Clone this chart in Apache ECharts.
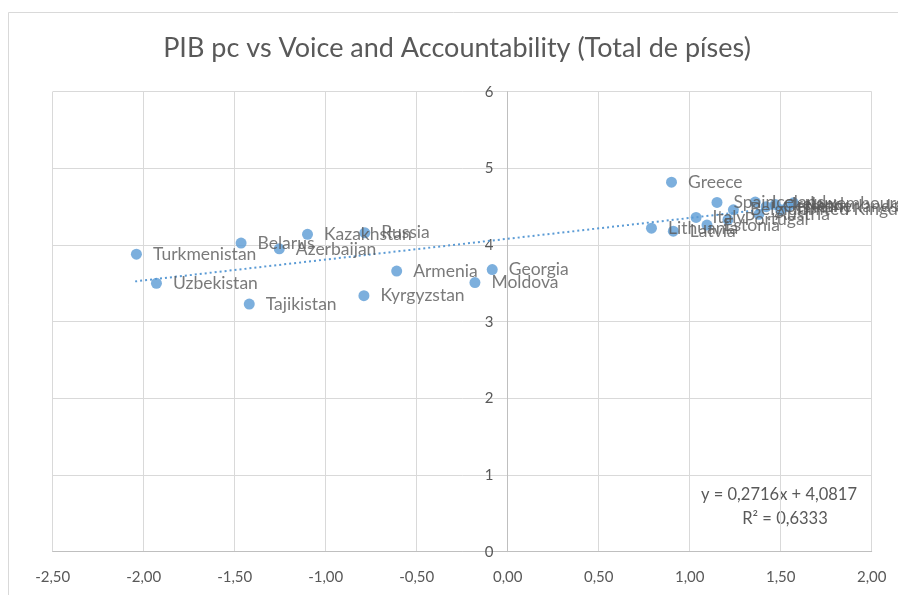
<!DOCTYPE html>
<html>
<head>
<meta charset="utf-8">
<script src="https://cdn.jsdelivr.net/npm/echarts@6/dist/echarts.min.js"></script>
<style>
  html, body { margin: 0; padding: 0; background: #fff; }
  #chart { width: 898px; height: 595px; }
</style>
</head>
<body>
<div id="chart"></div>
<script>
// países, Voice and Accountability (x) y PIB pc (y)
const countries = ['Turkmenistan', 'Uzbekistan', 'Belarus', 'Tajikistan', 'Azerbaijan', 'Kazakhstan',
  'Russia', 'Kyrgyzstan', 'Armenia', 'Moldova', 'Georgia', 'Greece', 'Lithuania', 'Latvia', 'Italy',
  'Estonia', 'Spain', 'Portugal', 'Belgium', 'Iceland', 'Austria', 'Germany', 'Ireland',
  'United Kingdom', 'Netherlands', 'Luxembourg']
const voice = [-2.04, -1.93, -1.465, -1.42, -1.255, -1.10,
  -0.785, -0.79, -0.61, -0.18, -0.085, 0.90, 0.79, 0.91, 1.035,
  1.095, 1.15, 1.21, 1.24, 1.36, 1.38, 1.42, 1.47,
  1.50, 1.54, 1.57]
const pib = [3.88, 3.50, 4.025, 3.23, 3.95, 4.14,
  4.16, 3.34, 3.66, 3.51, 3.68, 4.82, 4.22, 4.18, 4.36,
  4.26, 4.555, 4.33, 4.46, 4.56, 4.40, 4.50, 4.53,
  4.46, 4.50, 4.55]
// línea de tendencia (extremos)
const trendX = [-2.047, 1.57]
const trendY = [3.526, 4.508]

const font = 'Lato, "Open Sans", sans-serif'
const points = countries.map((c, i) => ({ name: c, value: [voice[i], pib[i]] }))

const chart = echarts.init(document.getElementById('chart'), null, { renderer: 'canvas' })
chart.setOption({
  animation: false,
  backgroundColor: '#fff',
  textStyle: { fontFamily: font },
  graphic: [
    {
      type: 'rect',
      shape: { x: 8.5, y: 12.5, width: 900, height: 600 },
      style: { fill: 'none', stroke: '#d9d9d9', lineWidth: 1 },
      silent: true,
    },
    {
      type: 'text',
      x: 457,
      y: 48,
      style: {
        text: 'PIB pc vs Voice and Accountability (Total de píses)',
        font: '27px ' + font,
        fill: '#595959',
        align: 'center',
        verticalAlign: 'middle',
      },
    },
    {
      type: 'text',
      x: 779,
      y: 495,
      style: {
        text: 'y = 0,2716x + 4,0817',
        font: '16.5px ' + font,
        fill: '#595959',
        align: 'center',
        verticalAlign: 'middle',
      },
    },
    {
      type: 'text',
      x: 785,
      y: 519,
      style: {
        text: 'R² = 0,6333',
        font: '16.5px ' + font,
        fill: '#595959',
        align: 'center',
        verticalAlign: 'middle',
      },
    },
  ],
  grid: {
    left: 52.7,
    right: 26.3,
    top: 91.7,
    bottom: 43.3,
  },
  xAxis: {
    type: 'value',
    min: -2.5,
    max: 2,
    interval: 0.5,
    axisLine: { show: true, onZero: false, lineStyle: { color: '#bfbfbf', width: 1 } },
    axisTick: { show: false },
    axisLabel: {
      color: '#595959',
      fontSize: 15,
      fontFamily: font,
      margin: 18,
      formatter: (v) => v.toFixed(2).replace('.', ','),
    },
    splitLine: { show: true, lineStyle: { color: '#d9d9d9' } },
  },
  yAxis: {
    type: 'value',
    min: 0,
    max: 6,
    interval: 1,
    offset: -454.7, // eje Y cruzando en x = 0
    axisLine: { show: true, onZero: false, lineStyle: { color: '#bfbfbf', width: 1 } },
    axisTick: { show: false },
    axisLabel: {
      color: '#595959',
      fontSize: 15,
      fontFamily: font,
      margin: 14,
    },
    splitLine: { show: true, lineStyle: { color: '#d9d9d9' } },
  },
  series: [
    {
      type: 'line',
      data: trendX.map((x, i) => [x, trendY[i]]),
      symbol: 'none',
      silent: true,
      lineStyle: { color: '#5B9BD5', width: 2, type: [2, 3] },
      z: 3,
    },
    {
      type: 'scatter',
      data: points,
      symbolSize: 11,
      itemStyle: { color: '#5B9BD5' },
      label: {
        show: true,
        position: 'right',
        distance: 11,
        formatter: (p) => p.name,
        color: '#595959',
        fontSize: 17.5,
        fontFamily: font,
      },
      z: 4,
    },
  ],
})
</script>
</body>
</html>
